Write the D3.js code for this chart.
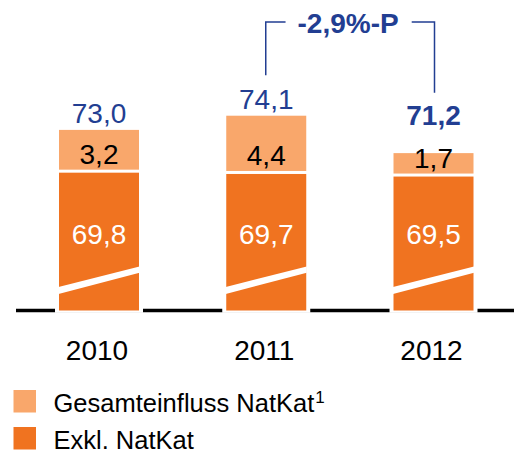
<!DOCTYPE html>
<html><head><meta charset="utf-8">
<script src="https://cdn.jsdelivr.net/npm/d3@7"></script>
<style>html,body{margin:0;padding:0;background:#fff;}svg{display:block;font-family:"Liberation Sans",Arial,sans-serif;}</style>
</head><body>
<svg id="c" width="514" height="454"></svg>
<script>
const years = ["2010", "2011", "2012"];
const exklNatKat = [69.8, 69.7, 69.5];
const natKat = [3.2, 4.4, 1.7];
const totals = [73.0, 74.1, 71.2];
const totalLabels = ["73,0", "74,1", "71,2"];
const exklLabels = ["69,8", "69,7", "69,5"];
const natKatLabels = ["3,2", "4,4", "1,7"];
const highlight = [false, false, true];
const changeLabel = "-2,9%-P";
const legendLabels = ["Gesamteinfluss NatKat", "Exkl. NatKat"];

const DARK = "#F07320", LIGHT = "#F9A76B", BLUE = "#223E92";
const svg = d3.select("#c");
const baseY = 310.5;
const y = d3.scaleLinear().domain([59, 75]).range([baseY, baseY - 16 * 12.9]);
const x = d3.scalePoint().domain(years).range([99, 433.5]);
const bw = 80;

// axis line
svg.append("line").attr("x1", 16).attr("x2", 514).attr("y1", baseY).attr("y2", baseY)
  .attr("stroke", "#000").attr("stroke-width", 3.5);

const g = svg.selectAll("g.bar").data(years).join("g").attr("class", "bar");
// white backing
g.append("rect").attr("x", d => x(d) - bw / 2 - 4).attr("width", bw + 8)
  .attr("y", (d, i) => y(totals[i])).attr("height", (d, i) => 312.8 - y(totals[i])).attr("fill", "#fff");
// dark segment
g.append("rect").attr("x", d => x(d) - bw / 2).attr("width", bw)
  .attr("y", (d, i) => y(exklNatKat[i]) + 1.5).attr("height", (d, i) => baseY - y(exklNatKat[i]) - 1.5)
  .attr("fill", DARK);
// light segment
g.append("rect").attr("x", d => x(d) - bw / 2).attr("width", bw)
  .attr("y", (d, i) => y(exklNatKat[i] + natKat[i])).attr("height", (d, i) => y(exklNatKat[i]) - y(exklNatKat[i] + natKat[i]) - 1.5)
  .attr("fill", LIGHT);
// break marker
g.append("polygon").attr("fill", "#fff").attr("points", d => {
  const l = x(d) - bw / 2 - 0.5, r = x(d) + bw / 2 + 0.5;
  return [[l, baseY - 23.5], [r, baseY - 44], [r, baseY - 37.8], [l, baseY - 16.5]].map(p => p.join(",")).join(" ");
});
// inner labels
g.append("text").attr("x", d => x(d)).attr("y", baseY - 66.5).attr("text-anchor", "middle")
  .attr("font-size", 28).attr("fill", "#fff").text((d, i) => exklLabels[i]);
g.append("text").attr("x", d => x(d)).attr("y", (d, i) => y(exklNatKat[i]) - 7.5).attr("text-anchor", "middle")
  .attr("font-size", 28).attr("fill", "#000").text((d, i) => natKatLabels[i]);
// totals
const labelFloor = y(72.8);
g.append("text").attr("x", d => x(d)).attr("y", (d, i) => Math.min(y(totals[i]), labelFloor) - 7)
  .attr("text-anchor", "middle").attr("font-size", 28).attr("fill", BLUE)
  .attr("font-weight", (d, i) => highlight[i] ? "bold" : "normal").text((d, i) => totalLabels[i]);
// categories
g.append("text").attr("x", d => x(d) - 2).attr("y", 360).attr("text-anchor", "middle")
  .attr("font-size", 28).attr("fill", "#000").text(d => d);

// bracket
const xa = x(years[1]) - 0.5, xb = x(years[2]) + 1, by = 22;
const mid = (xa + xb) / 2 - 2;
const ct = svg.append("text").attr("x", mid).attr("y", 33).attr("text-anchor", "middle")
  .attr("font-size", 28).attr("font-weight", "bold").attr("fill", BLUE).text(changeLabel);
const bb = ct.node().getBBox();
const bracket = d3.path();
bracket.moveTo(xa, 75.3); bracket.lineTo(xa, by); bracket.lineTo(bb.x - 12, by);
bracket.moveTo(bb.x + bb.width + 13, by); bracket.lineTo(xb, by); bracket.lineTo(xb, 92.7);
svg.append("path").attr("d", bracket.toString()).attr("fill", "none").attr("stroke", BLUE).attr("stroke-width", 1.5);

// legend
const lg = svg.selectAll("g.leg").data(legendLabels).join("g").attr("class", "leg")
  .attr("transform", (d, i) => `translate(13.5,${390 + i * 37})`);
lg.append("rect").attr("width", 22.5).attr("height", 22.5).attr("fill", (d, i) => i === 0 ? LIGHT : DARK);
const lt = lg.append("text").attr("x", 40).attr("y", (d, i) => 21.7 + i * 0.3).attr("font-size", 25.5).attr("fill", "#000");
lt.append("tspan").text(d => d);
lt.filter((d, i) => i === 0).append("tspan").attr("font-size", 17).attr("dx", 1).attr("dy", -9).text("1");
</script>
</body></html>
